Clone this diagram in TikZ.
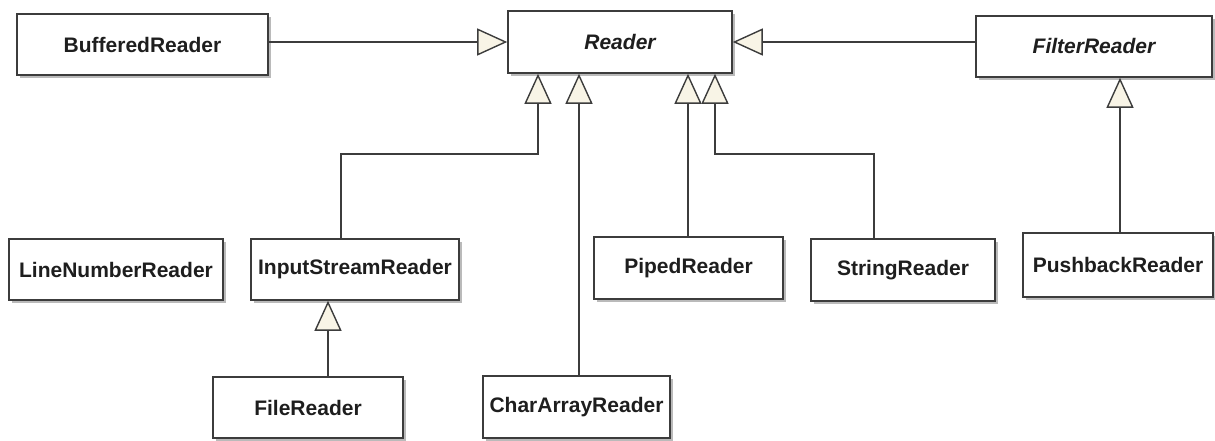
\documentclass[tikz,border=0pt]{standalone}
\usepackage{fontspec}
\setmainfont{Liberation Sans}
\usetikzlibrary{arrows.meta,shadows}
\definecolor{edge}{HTML}{3C3C3C}
\definecolor{cream}{HTML}{F8F4E6}
\definecolor{ink}{HTML}{1E1E1E}
\tikzset{
  cls/.style={draw=edge, line width=1.6pt, fill=white, inner sep=0pt,
    text=ink, font=\fontsize{21}{24}\selectfont\bfseries,
    drop shadow={shadow xshift=3pt, shadow yshift=-3pt, fill=black!45, opacity=0.6}},
  abs/.style={cls, font=\fontsize{21}{24}\selectfont\bfseries\itshape},
  inh/.style={draw=edge, line width=1.4pt,
    -{Triangle[length=30pt, width=27pt, fill=cream, line join=miter]}},
}
\begin{document}
\begin{tikzpicture}[x=1pt, y=-1pt]
\useasboundingbox (0,0) rectangle (1215,441);

% classes (centre, width, height)
\node[cls, minimum width=251, minimum height=61] (BR)  at (142.5,44.5) {BufferedReader};
\node[abs, minimum width=224, minimum height=62] (RD)  at (620,42)     {Reader};
\node[abs, minimum width=236, minimum height=61] (FR)  at (1094,46.5)  {FilterReader};
\node[cls, minimum width=214, minimum height=61] (LNR) at (116,269.5)  {LineNumberReader};
\node[cls, minimum width=208, minimum height=61] (ISR) at (355,269.5)  {InputStreamReader};
\node[cls, minimum width=190, minimum height=61] (FLR) at (308,407.5)  {FileReader};
\node[cls, minimum width=187, minimum height=62] (CAR) at (576.5,407)  {CharArrayReader};
\node[cls, minimum width=189, minimum height=62] (PR)  at (688.5,268)  {PipedReader};
\node[cls, minimum width=184, minimum height=62] (SR)  at (903,270)    {StringReader};
\node[cls, minimum width=190, minimum height=64] (PBR) at (1118,265)   {PushbackReader};

% attachment points on the bottom of Reader
\coordinate (rISR) at ([xshift=-82]RD.south);
\coordinate (rCAR) at ([xshift=-41]RD.south);
\coordinate (rPR)  at ([xshift=68]RD.south);
\coordinate (rSR)  at ([xshift=95]RD.south);

% generalisations
\draw[inh] (RD.west -| BR.east) -- (RD.west);
\draw[inh] (RD.east -| FR.west) -- (RD.east);
\draw[inh] ([xshift=-14]ISR.north) |- ([yshift=-80]rISR) -- (rISR);
\draw[inh] (CAR.north -| rCAR) -- (rCAR);
\draw[inh] (PR.north -| rPR) -- (rPR);
\draw[inh] ([xshift=-29]SR.north) |- ([yshift=-80]rSR) -- (rSR);
\draw[inh] ([xshift=2]PBR.north) -- ([xshift=2]PBR.north |- FR.south);
\draw[inh] ([xshift=20]FLR.north) -- ([xshift=20]FLR.north |- ISR.south);
\end{tikzpicture}
\end{document}
